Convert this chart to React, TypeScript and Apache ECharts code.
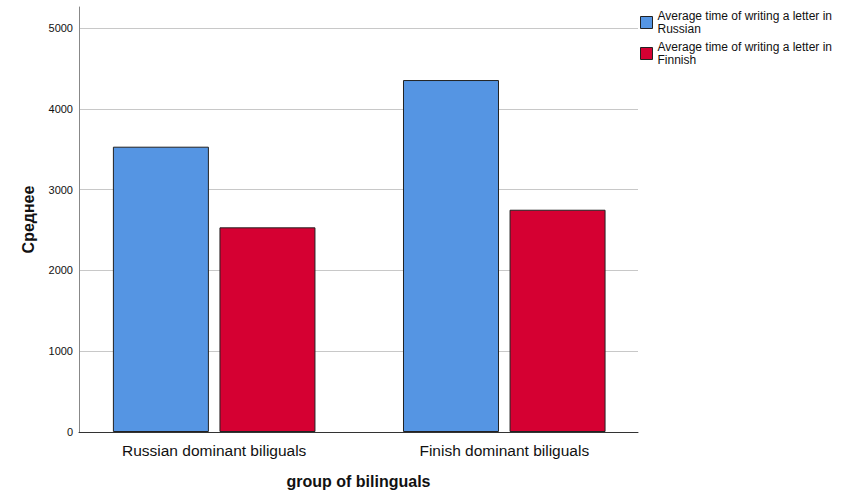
import React, { useEffect, useRef } from "react";
import * as echarts from "echarts";

const categories = ["Russian dominant biliguals", "Finish dominant biliguals"];
const seriesNames = [
  "Average time of writing a letter in Russian",
  "Average time of writing a letter in Finnish",
];
const russianTime = [3531, 4356];
const finnishTime = [2533, 2751];
const yTicks = [0, 1000, 2000, 3000, 4000, 5000];
const colors = ["#5595E3", "#D50032"];

const FONT = "'Liberation Sans', Arial, sans-serif";

export default function App() {
  const ref = useRef<HTMLDivElement>(null);
  useEffect(() => {
    if (!ref.current) return;
    const chart = echarts.init(ref.current, undefined, { renderer: "svg" });
    const positions = categories.map((_, i) => i + 1);
    const mk = (vals: number[]) => vals.map((v, i) => [positions[i], v]);
    chart.setOption({
      animation: false,
      textStyle: { fontFamily: FONT },
      grid: { left: 79, right: 216, top: 7, bottom: 72 },
      legend: {
        orient: "vertical",
        left: 640,
        top: 9,
        padding: 0,
        itemWidth: 12,
        itemHeight: 12,
        itemGap: 4,
        icon: "rect",
        data: seriesNames,
        formatter: (n: string) => n.replace(/ (\S+)$/, "\n$1"),
        textStyle: { fontFamily: FONT, fontSize: 12, lineHeight: 13.5, color: "#111" },
        itemStyle: { borderColor: "#222", borderWidth: 1 },
      },
      xAxis: {
        type: "value",
        min: 0.534,
        max: 2.461,
        name: "group of bilinguals",
        nameLocation: "middle",
        nameGap: 41,
        nameTextStyle: { fontFamily: FONT, fontSize: 16, fontWeight: "bold", color: "#111" },
        axisLine: { show: true, lineStyle: { color: "#333", width: 1 } },
        axisTick: { show: false },
        splitLine: { show: false },
        axisLabel: {
          customValues: positions,
          formatter: (v: number) => categories[Math.round(v) - 1] ?? "",
          fontFamily: FONT,
          fontSize: 15.5,
          color: "#111",
          margin: 10,
        },
      },
      yAxis: {
        type: "value",
        min: 0,
        max: 5260,
        interval: 1000,
        name: "Среднее",
        nameLocation: "middle",
        nameGap: 43,
        nameTextStyle: { fontFamily: FONT, fontSize: 16, fontWeight: "bold", color: "#111" },
        axisLine: { show: true, lineStyle: { color: "#888", width: 1 } },
        axisTick: { show: false, customValues: yTicks },
        splitLine: { show: true, lineStyle: { color: "#c8c8c8", width: 1 } },
        axisLabel: {
          customValues: yTicks,
          formatter: (v: number) => String(v),
          fontFamily: FONT,
          fontSize: 11,
          color: "#111",
          margin: 6,
        },
      },
      series: [
        {
          name: seriesNames[0],
          type: "bar",
          data: mk(russianTime),
          barWidth: 96,
          barGap: "11%",
          itemStyle: { color: colors[0], borderColor: "#222", borderWidth: 1 },
        },
        {
          name: seriesNames[1],
          type: "bar",
          data: mk(finnishTime),
          barWidth: 96,
          barGap: "11%",
          itemStyle: { color: colors[1], borderColor: "#222", borderWidth: 1 },
        },
      ],
    });
    return () => chart.dispose();
  }, []);
  return (
    <div
      ref={ref}
      style={{ position: "fixed", left: 0, top: 0, width: 854, height: 504, background: "#fff" }}
    />
  );
}
